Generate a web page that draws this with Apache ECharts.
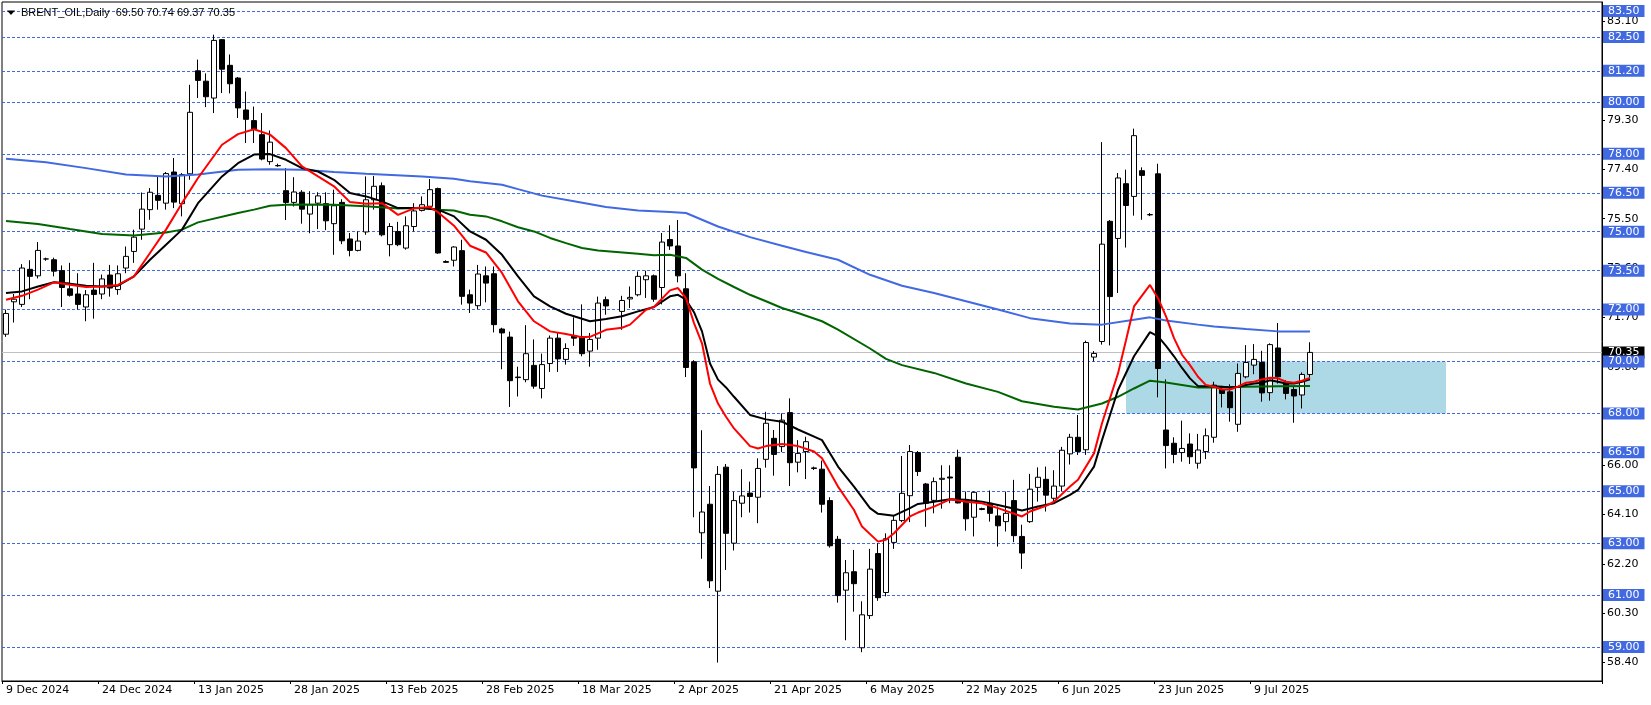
<!DOCTYPE html>
<html>
<head>
<meta charset="utf-8">
<script src="https://cdn.jsdelivr.net/npm/echarts@6/dist/echarts.min.js"></script>
<style>
html,body{margin:0;padding:0;background:#fff;}
#chart{width:1651px;height:705px;}
</style>
</head>
<body>
<div id="chart"></div>
<script>
// ---- DATA ----
const headerText = 'BRENT_OIL,Daily  69.50 70.74 69.37 70.35';
const tickLabels = ['9 Dec 2024','24 Dec 2024','13 Jan 2025','28 Jan 2025','13 Feb 2025','28 Feb 2025','18 Mar 2025','2 Apr 2025','21 Apr 2025','6 May 2025','22 May 2025','6 Jun 2025','23 Jun 2025','9 Jul 2025'];
const barsPerTick = 12;
const slotCount = 200;
const priceTicks = [58.4, 60.3, 62.2, 64.1, 66.0, 67.9, 69.8, 71.7, 73.6, 75.5, 77.4, 79.3, 81.2, 83.1];
const levels = [83.5, 82.5, 81.2, 80.0, 78.0, 76.5, 75.0, 73.5, 72.0, 70.0, 68.0, 66.5, 65.0, 63.0, 61.0, 59.0];
const lastPrice = 70.35;
const zoneBars = [140, 180];
const zonePrices = [68.0, 70.0];

// [open, high, low, close] per daily bar
const candles = [
[71.05,72.0,70.95,71.85],[72.3,72.6,71.5,72.4],[72.2,73.75,72.1,73.6],[73.55,73.9,72.4,73.28],[73.3,74.6,73.2,74.28],
[73.95,74.0,73.88,73.95],[73.92,74.0,73.28,73.48],[73.5,73.7,72.1,72.85],[72.8,73.8,72.5,72.55],[72.6,73.4,72.0,72.2],
[72.1,72.75,71.55,72.57],[72.75,73.8,71.65,72.58],[72.6,73.35,72.4,73.18],[73.33,73.72,72.5,72.83],[72.77,73.7,72.57,73.38],
[73.6,74.43,73.4,74.05],[74.24,75.08,73.8,74.79],[75.1,76.51,74.69,75.87],[75.85,76.68,75.46,76.52],[76.4,77.13,75.85,76.21],
[76.1,77.3,75.85,77.24],[77.3,77.84,75.91,76.14],[76.08,77.26,75.59,77.2],[77.23,80.66,77.0,79.6],[81.2,81.63,80.15,80.83],
[80.8,81.1,79.8,80.2],[80.15,82.59,79.57,82.37],[82.4,82.42,80.34,81.26],[81.41,81.83,80.33,80.7],[80.92,80.96,79.38,79.77],
[79.69,80.4,78.42,79.33],[79.28,79.82,78.42,78.95],[78.74,79.57,77.75,77.8],[77.7,78.9,77.58,78.45],[77.55,77.62,77.5,77.54],
[76.58,77.45,75.45,76.13],[76.13,77.1,75.97,76.53],[76.52,76.6,75.31,75.87],[75.68,76.56,74.94,76.04],[76.1,76.52,75.1,76.38],
[76.08,76.52,75.06,75.42],[75.31,76.62,74.11,76.0],[76.13,76.25,74.52,74.65],[74.72,74.95,74.05,74.28],[74.28,75.01,74.24,74.64],
[74.99,77.13,74.88,76.23],[76.23,77.15,75.85,76.75],[76.77,76.9,74.82,74.88],[74.5,75.33,74.05,75.2],[75.01,75.38,74.44,74.5],
[74.37,75.59,74.31,75.23],[75.2,76.1,75.01,75.8],[75.82,76.36,75.78,76.04],[75.98,77.03,75.91,76.62],[76.66,76.7,74.15,74.18],
[73.85,73.9,73.8,73.82],[73.9,74.44,73.66,74.41],[74.27,74.69,72.19,72.51],[72.57,72.77,71.87,72.25],[72.15,73.72,72.02,73.37],
[73.3,73.66,72.28,73.02],[73.38,73.66,71.12,71.42],[71.25,71.3,69.7,71.1],[70.94,71.15,68.25,69.26],[69.4,69.8,68.65,69.38],
[69.3,71.4,69.2,70.3],[69.85,70.85,68.95,69.05],[68.96,70.3,68.58,69.88],[69.92,71.0,69.6,70.9],[70.9,71.1,69.6,70.1],
[70.08,70.7,69.88,70.5],[71.0,71.7,70.6,70.9],[70.95,72.2,70.2,70.3],[70.4,71.1,69.8,70.85],[70.9,72.5,70.45,72.25],
[72.38,72.5,71.8,72.14],null,[71.93,72.53,71.22,72.35],[72.41,72.89,72.06,72.47],[72.57,73.47,72.51,73.28],
[73.15,73.5,72.45,73.3],[73.3,73.35,72.3,72.4],[72.85,74.95,72.2,74.6],[74.7,75.25,74.3,74.45],[74.45,75.45,73.05,73.3],
[72.8,73.4,69.4,69.77],[69.99,70.05,64.0,65.9],[63.4,67.35,62.4,64.2],[64.5,65.2,61.27,61.55],[61.15,65.97,58.4,65.65],
[65.93,66.05,61.97,63.38],[63.0,64.98,62.72,64.64],[64.54,65.85,64.0,64.82],[64.93,65.37,64.18,64.8],[64.77,66.27,63.77,65.88],
[66.23,68.06,65.91,67.62],[67.04,67.36,65.6,66.42],[66.72,68.0,66.51,67.74],[68.03,68.58,65.2,66.1],[66.12,66.97,65.73,66.46],
[66.53,67.1,65.47,66.91],[65.9,65.95,65.82,65.88],[65.85,66.18,64.18,64.5],[64.64,64.77,62.83,62.9],[63.15,63.28,60.71,60.98],
[61.19,62.35,59.26,61.86],[61.9,62.74,60.36,61.44],[58.97,60.76,58.8,60.24],[60.21,62.78,60.08,62.0],[62.6,63.0,60.78,60.9],
[61.1,63.38,60.95,63.17],[63.03,64.09,62.78,63.88],[63.87,66.36,63.81,64.92],[64.83,66.78,63.81,66.53],[66.49,66.55,65.59,65.76],
[65.28,65.32,63.63,64.54],[64.65,65.53,64.15,65.37],[65.46,66.0,64.33,65.5],[65.55,66.0,64.54,65.51],[66.31,66.6,64.53,64.55],
[64.62,64.99,63.48,63.94],[64.0,64.99,63.26,64.96],[64.33,64.37,64.27,64.3],[64.54,65.03,63.83,64.15],[64.05,64.41,62.87,63.67],
[63.83,64.99,63.45,64.15],[64.64,65.44,63.04,63.29],[63.26,63.71,62.01,62.62],[63.83,65.67,63.78,65.08],[65.15,65.92,64.6,65.54],
[65.46,65.95,64.22,64.85],[64.73,65.81,64.58,65.2],[65.2,66.71,64.99,66.58],[66.44,67.21,66.03,67.08],[67.08,67.94,66.4,66.53],
[66.6,70.8,66.4,70.73],[70.17,70.4,70.0,70.31],[70.77,78.45,70.65,74.52],[75.4,75.45,70.62,72.5],[74.74,77.26,72.64,77.07],
[76.85,77.39,74.39,76.01],[76.36,78.97,75.62,78.7],[77.35,77.48,75.46,77.17],[75.65,75.72,75.6,75.66],[77.23,77.62,68.62,69.73],
[67.36,69.31,65.88,66.76],[66.85,67.08,66.08,66.42],[66.49,67.72,66.14,66.65],[66.82,67.23,66.05,66.33],[66.08,67.21,65.87,66.59],
[66.53,67.42,66.24,67.14],[67.08,69.22,66.87,69.09],[68.92,69.06,68.23,68.77],[68.83,69.12,67.68,68.22],[67.58,69.92,67.29,69.54],
[69.41,70.63,69.35,69.96],[69.86,70.67,69.51,70.08],[69.96,70.41,68.45,68.79],[68.8,70.7,68.49,70.65],[70.52,71.48,69.15,69.41],
[69.13,69.28,68.54,68.77],[68.92,69.03,67.64,68.67],[68.71,69.58,68.19,69.5],[69.5,70.74,69.37,70.35]
];

// moving averages: [bar index, value]
const maRed = [[0,72.38],[2,72.53],[4,72.77],[6,73.05],[8,72.96],[10,72.87],[12,72.89],[14,72.95],[16,73.28],[18,74.18],[20,75.08],[22,76.1],[24,77.07],[27,78.35],[29,78.76],[31,78.95],[33,78.74],[35,78.22],[37,77.52],[39,77.13],[41,76.75],[43,76.14],[45,76.08],[47,76.1],[49,75.65],[51,75.9],[53,75.95],[54,75.75],[56,75.23],[58,74.46],[60,74.2],[62,73.41],[64,72.32],[66,71.55],[68,71.16],[70,71.06],[72,70.93],[73,70.95],[75,71.22],[77,71.3],[78,71.42],[80,71.99],[81,72.1],[83,72.74],[84,72.83],[85,72.44],[86,71.48],[87,70.7],[88,69.15],[89,68.38],[90,67.87],[91,67.42],[93,66.74],[94,66.65],[95,66.74],[97,66.82],[99,66.74],[101,66.53],[102,66.27],[104,65.18],[106,64.28],[107,63.64],[109,63.06],[110,63.13],[111,63.38],[113,64.03],[114,64.18],[116,64.41],[118,64.69],[120,64.6],[122,64.54],[124,64.35],[127,64.03],[128,64.22],[130,64.44],[131,64.6],[133,65.18],[134,65.44],[136,66.46],[137,67.62],[139,69.54],[140,70.82],[141,72.12],[143,72.95],[144,72.44],[145,71.74],[146,70.9],[147,70.26],[148,69.86],[149,69.41],[150,69.09],[151,69.03],[152,68.92],[153,68.92],[154,69.03],[155,69.18],[156,69.22],[157,69.31],[158,69.37],[159,69.35],[160,69.22],[161,69.18],[162,69.26],[163,69.37]];
const maBlack = [[0,72.64],[2,72.7],[4,72.89],[6,73.05],[8,73.0],[10,72.92],[12,72.89],[14,72.92],[16,73.28],[18,73.92],[20,74.5],[22,75.08],[24,76.1],[27,77.13],[29,77.64],[31,77.97],[33,77.99],[35,77.77],[37,77.45],[39,77.32],[41,77.0],[43,76.49],[45,76.36],[47,76.17],[49,75.91],[52,75.91],[54,75.85],[56,75.59],[58,75.01],[60,74.69],[62,74.11],[64,73.28],[66,72.51],[68,72.12],[70,71.84],[73,71.55],[75,71.64],[77,71.74],[79,71.93],[81,72.1],[83,72.51],[84,72.57],[85,72.38],[86,71.9],[87,71.16],[88,69.92],[89,69.3],[90,69.0],[91,68.64],[93,67.94],[95,67.77],[97,67.68],[99,67.38],[102,66.97],[104,65.95],[106,65.18],[108,64.35],[109,64.13],[111,64.06],[113,64.35],[114,64.51],[116,64.6],[118,64.69],[120,64.67],[122,64.6],[124,64.47],[127,64.26],[129,64.41],[131,64.54],[133,64.86],[134,65.05],[136,65.95],[137,66.97],[139,68.9],[141,70.2],[143,71.13],[144,70.97],[145,70.6],[146,70.2],[147,69.75],[148,69.35],[149,69.05],[150,69.05],[151,69.05],[152,69.03],[153,69.0],[154,69.03],[155,69.09],[156,69.15],[157,69.18],[158,69.28],[159,69.22],[160,69.15],[161,69.15],[162,69.22],[163,69.31]];
const maGreen = [[0,75.41],[4,75.3],[8,75.1],[12,74.91],[16,74.85],[20,74.97],[22,75.08],[24,75.36],[29,75.72],[31,75.85],[33,76.0],[35,76.04],[37,76.05],[41,76.04],[45,75.98],[49,75.89],[52,75.91],[54,75.85],[56,75.82],[58,75.65],[60,75.59],[62,75.4],[64,75.17],[66,75.01],[68,74.76],[70,74.56],[72,74.37],[74,74.28],[79,74.15],[81,74.09],[83,74.11],[85,73.99],[87,73.54],[89,73.18],[91,72.87],[93,72.57],[95,72.32],[97,72.06],[99,71.87],[102,71.55],[104,71.23],[108,70.5],[110,70.1],[112,69.86],[116,69.56],[120,69.15],[124,68.83],[127,68.47],[131,68.26],[134,68.15],[137,68.38],[139,68.64],[141,68.96],[143,69.26],[145,69.19],[149,69.0],[151,69.0],[155,69.03],[159,69.05],[163,69.06]];
const maBlue = [[0,77.81],[5,77.68],[10,77.45],[15,77.2],[20,77.13],[24,77.2],[29,77.39],[33,77.41],[37,77.39],[41,77.3],[45,77.23],[52,77.13],[56,77.04],[58,76.94],[62,76.81],[64,76.64],[67,76.39],[71,76.17],[75,75.95],[79,75.82],[83,75.76],[85,75.72],[89,75.2],[93,74.79],[97,74.46],[100,74.22],[104,73.92],[108,73.34],[112,72.92],[116,72.64],[120,72.32],[124,72.0],[128,71.67],[133,71.46],[137,71.42],[141,71.61],[143,71.7],[145,71.58],[149,71.42],[151,71.35],[155,71.25],[159,71.16],[163,71.16]];

// ---- CHART ----
const categories = Array.from({length: slotCount}, (_, i) => String(i));
const candleData = candles.map(c => c ? [c[0], c[3], c[2], c[1]] : '-');
const showTick = i => i % barsPerTick === 0 && i / barsPerTick < tickLabels.length;
const AX_FONT = 'DejaVu Sans';
const LEVEL_BLUE = '#4169E1';

const chart = echarts.init(document.getElementById('chart'), null, {renderer: 'canvas'});
chart.setOption({
  animation: false,
  backgroundColor: '#ffffff',
  grid: {left: 2, right: 49, top: 2, bottom: 24, show: true, borderColor: '#000', borderWidth: 1, backgroundColor: '#fff'},
  xAxis: {
    type: 'category', data: categories, boundaryGap: true,
    axisLine: {show: true, lineStyle: {color: '#000', width: 1}},
    axisTick: {show: true, interval: showTick, length: 3, lineStyle: {color: '#000'}},
    axisLabel: {
      show: true, interval: showTick, hideOverlap: false, align: 'left', margin: 4,
      fontFamily: AX_FONT, fontSize: 11, color: '#000',
      formatter: (v, idx) => tickLabels[idx / barsPerTick] || ''
    },
    splitLine: {show: false}
  },
  yAxis: {
    type: 'value', position: 'right', min: 57.69, max: 83.85, scale: true,
    axisLine: {show: true, lineStyle: {color: '#000', width: 1}},
    axisTick: {show: true, customValues: priceTicks, length: 3, lineStyle: {color: '#000'}},
    axisLabel: {show: true, customValues: priceTicks, margin: 5, fontFamily: AX_FONT, fontSize: 11, color: '#000',
      formatter: v => Number(v).toFixed(2)},
    splitLine: {show: false}
  },
  graphic: [
    {type: 'polygon', shape: {points: [[7, 10.5], [15, 10.5], [11, 15]]}, style: {fill: '#000'}, z: 100},
    {type: 'text', x: 21, y: 12.5, style: {text: headerText, font: '11px "Liberation Sans"', fill: '#000', textVerticalAlign: 'middle'}, z: 100}
  ],
  series: [
    {
      name: 'lastPrice', type: 'line', data: [], z: 0, silent: true,
      markLine: {
        silent: true, symbol: 'none', animation: false,
        lineStyle: {color: '#C0C0C0', type: 'solid', width: 1},
        label: {show: true, position: 'end', distance: 1, formatter: p => p.value.toFixed(2),
          backgroundColor: '#000', color: '#fff', fontFamily: AX_FONT, fontSize: 11, padding: [1, 5, 0, 5]},
        data: [{yAxis: lastPrice}]
      }
    },
    {
      name: 'zone', type: 'line', data: [], z: 1, silent: true,
      markArea: {
        silent: true,
        itemStyle: {color: '#ADD8E6', opacity: 1},
        data: [[{xAxis: zoneBars[0], yAxis: zonePrices[0]}, {xAxis: zoneBars[1], yAxis: zonePrices[1]}]]
      }
    },
    {
      name: 'levels', type: 'line', data: [], z: 2, silent: true,
      markLine: {
        silent: true, symbol: 'none', animation: false,
        lineStyle: {color: LEVEL_BLUE, type: [3, 2], width: 1},
        label: {show: true, position: 'end', distance: 1, formatter: p => p.value.toFixed(2),
          backgroundColor: LEVEL_BLUE, color: '#fff', fontFamily: AX_FONT, fontSize: 11, padding: [1, 5, 0, 5]},
        data: levels.map(v => ({yAxis: v}))
      }
    },
    {
      name: 'BRENT_OIL', type: 'candlestick', data: candleData, z: 5, barWidth: 5,
      itemStyle: {color: '#ffffff', color0: '#000000', borderColor: '#000000', borderColor0: '#000000', borderWidth: 1}
    },
    {name: 'maBlue', type: 'line', data: maBlue, z: 6, symbol: 'none', lineStyle: {color: LEVEL_BLUE, width: 2}},
    {name: 'maGreen', type: 'line', data: maGreen, z: 6, symbol: 'none', lineStyle: {color: '#006400', width: 2}},
    {name: 'maBlack', type: 'line', data: maBlack, z: 7, symbol: 'none', lineStyle: {color: '#000000', width: 2}},
    {name: 'maRed', type: 'line', data: maRed, z: 8, symbol: 'none', lineStyle: {color: '#FF0000', width: 2}}
  ]
});
</script>
</body>
</html>
